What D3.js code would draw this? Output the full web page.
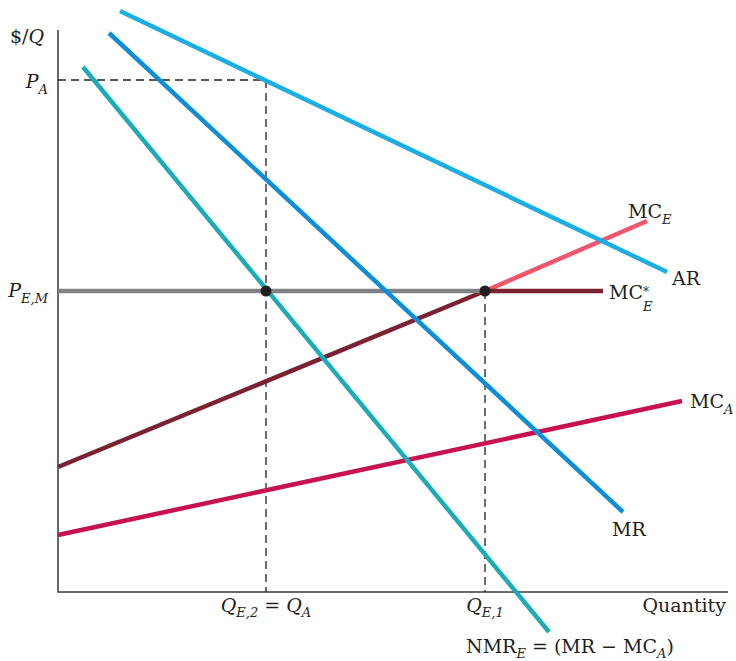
<!DOCTYPE html>
<html><head><meta charset="utf-8">
<script src="https://cdn.jsdelivr.net/npm/d3@7"></script>
<style>
body{margin:0;background:#fff;}
text{font-family:"DejaVu Serif","Liberation Serif",serif;fill:#231f20;}
</style></head>
<body><svg id="c" width="736" height="661"></svg>
<script>
// Data (quantity units, price units)
const AR = [[62,581],[609,320]];
const MR = [[51,559],[565,80]];
const NMR = [[25,525],[491,-40]];
const MCA = [[0,57],[624,191]];
const MCE_low = [[0,125],[427,301]];
const MCE_high = [[427,301],[589,371]];
const MCE_star = [[427,301],[545,301]];
const PEM = [[0,301],[427,301]];
const PA = 512, PEMval = 301;
const QE2 = 208, QE1 = 427;
const points = [[QE2,PEMval],[QE1,PEMval]];

const svg = d3.select("#c");
const x = d3.scaleLinear().domain([0,670]).range([58,728]);
const y = d3.scaleLinear().domain([0,562]).range([592,30]);
const line = d3.line().x(d=>x(d[0])).y(d=>y(d[1]));

// axes
svg.append("path").attr("d", line([[0,562],[0,0],[670,0]]))
  .attr("fill","none").attr("stroke","#3a3a3a").attr("stroke-width",1.5);

// dashed guides
const dash = {"stroke":"#231f20","stroke-width":1.3,"stroke-dasharray":"8,5","fill":"none"};
function dpath(pts){const p=svg.append("path").attr("d",line(pts));for(const k in dash)p.attr(k,dash[k]);}
dpath([[0,PA],[QE2,PA],[QE2,0]]);
dpath([[QE1,PEMval],[QE1,0]]);

function draw(pts,color){svg.append("path").attr("d",line(pts)).attr("fill","none")
  .attr("stroke",color).attr("stroke-width",4.5);}
draw(MCA,"#c8124f");
draw(MCE_low,"#7a2231");
draw(MCE_high,"#f0566e");
draw(MCE_star,"#7a2231");
draw(PEM,"#808285");
draw(AR,"#19aee6");
draw(MR,"#0d8fd8");
draw(NMR,"#1aadb7");

svg.selectAll("circle.pt").data(points).enter().append("circle")
  .attr("cx",d=>x(d[0])).attr("cy",d=>y(d[1])).attr("r",5.5).attr("fill","#231f20");

// labels
function lab(xp,yp,anchor,parts){
  const t=svg.append("text").attr("x",xp).attr("y",yp).attr("text-anchor",anchor).attr("font-size",19);
  parts.forEach(p=>{
    const ts=t.append("tspan").text(p.t);
    if(p.i) ts.attr("font-style","italic");
    if(p.sub){ts.attr("font-size",13).attr("dy",p.dy||5);}
    if(p.back){ts.attr("dy",p.back);}
  });
  return t;
}
lab(10,43,"start",[{t:"$/"},{t:"Q",i:1}]);
lab(48,88,"end",[{t:"P",i:1},{t:"A",i:1,sub:1,dy:6}]);
lab(48,297,"end",[{t:"P",i:1},{t:"E,M",i:1,sub:1,dy:6}]);
lab(x(QE2),612,"middle",[{t:"Q",i:1},{t:"E,2",i:1,sub:1,dy:5},{t:" = ",back:-5},{t:"Q",i:1},{t:"A",i:1,sub:1,dy:5}]);
lab(x(QE1),612,"middle",[{t:"Q",i:1},{t:"E,1",i:1,sub:1,dy:5}]);
lab(726,612,"end",[{t:"Quantity"}]);
lab(466,653,"start",[{t:"NMR"},{t:"E",i:1,sub:1,dy:5},{t:" = (MR − MC",back:-5},{t:"A",i:1,sub:1,dy:5},{t:")",back:-5}]);
lab(628,218,"start",[{t:"MC"},{t:"E",i:1,sub:1,dy:6}]);
lab(672,285,"start",[{t:"AR"}]);
lab(609,299,"start",[{t:"MC"}]);
svg.append("text").attr("x",643).attr("y",296).attr("font-size",12).text("*");
svg.append("text").attr("x",643).attr("y",311).attr("font-size",13).attr("font-style","italic").text("E");
lab(690,408,"start",[{t:"MC"},{t:"A",i:1,sub:1,dy:6}]);
lab(612,536,"start",[{t:"MR"}]);
</script></body></html>
